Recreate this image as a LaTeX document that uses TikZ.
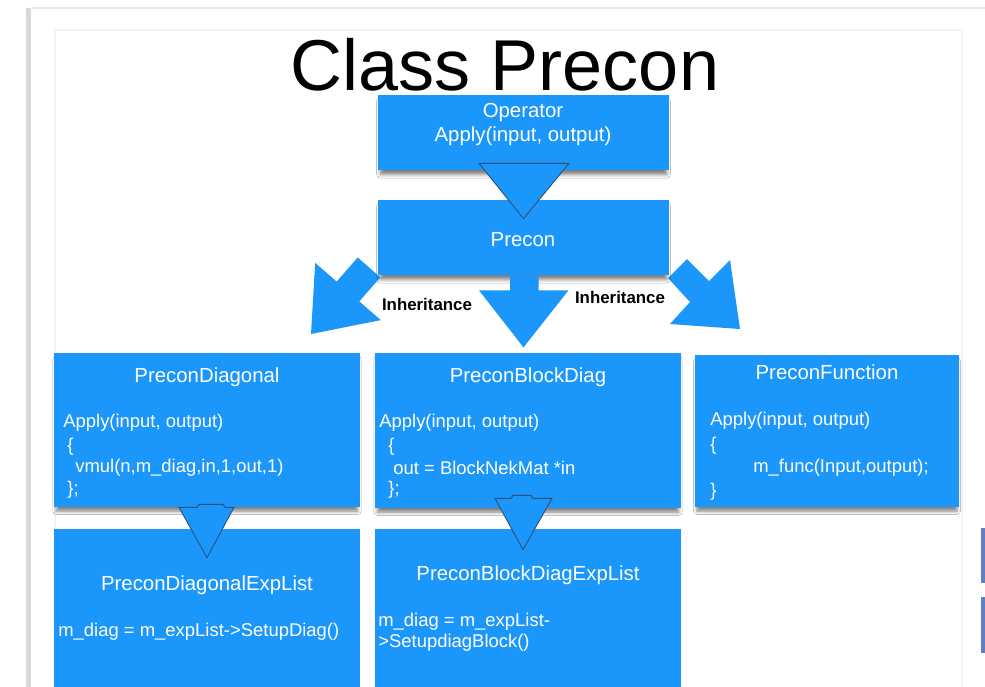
\documentclass[tikz,border=0pt]{standalone}
\usepackage{fontspec}
\setmainfont{Liberation Sans}
\usetikzlibrary{fit,calc,shadows.blur}

\definecolor{slideblue}{RGB}{27,150,250}
\definecolor{tripen}{RGB}{45,80,115}
\definecolor{barblue}{RGB}{95,128,196}

\tikzset{
  classbox/.style={fill=slideblue, draw=none, inner sep=0pt,
    blur shadow={shadow xshift=0pt, shadow yshift=-3pt, shadow scale=0.985,
                 shadow blur radius=2pt, shadow opacity=50}},
  flatbox/.style={fill=slideblue, draw=none, inner sep=0pt},
  headtext/.style={text=white, font=\fontsize{11.6}{13}\selectfont, inner sep=0pt},
  codeline/.style={text=white, font=\fontsize{10.5}{12}\selectfont, inner sep=0pt, anchor=west},
  tri/.style={fill=slideblue, draw=tripen, line width=0.5pt, line join=miter},
  bigarrow/.style={fill=slideblue, draw=none},
  inhlabel/.style={font=\bfseries\fontsize{9.6}{11}\selectfont, inner sep=0pt},
}

\begin{document}
\begin{tikzpicture}[x=0.02cm, y=-0.02cm]
\useasboundingbox (0,0) rectangle (985,687);
\fill[white] (0,0) rectangle (985,687);

% slide frame
\fill[gray!30] (26,8) rectangle (31,687);
\draw[gray!18, line width=1.2pt] (31,8) -- (985,8);
\draw[gray!10, line width=0.6pt] (55,30) rectangle (962,700);
\fill[barblue] (981,528) rectangle (985,583);
\fill[barblue] (981,597) rectangle (985,653);

% title
\node[inner sep=0pt, anchor=base, font=\fontsize{41}{41}\selectfont] (title) at (505,90) {Class Precon};

% inheritance arrows (drawn beneath the Precon box)
\fill[bigarrow] (357.7,257.5) -- (336.7,281.6) -- (315.2,262.9) -- (311,334)
  -- (380.8,320.1) -- (359.3,301.4) -- (380.3,277.3) -- cycle;
\fill[bigarrow] (687,259) -- (709,281) -- (730,260) -- (740,329)
  -- (670,324) -- (690,302) -- (668,278) -- cycle;

% base classes
\node[classbox, fit={(378,95) (669,170)}] (op) {};
\node[classbox, fit={(378,200) (669,275)}] (pre) {};

\fill[bigarrow] ($(pre.south)+(-13.5,0)$) -- ++(0,15) -- ++(-31,0) -- ++(44.5,57)
  -- ++(45,-57) -- ++(-30,0) -- ++(0,-15) -- cycle;

\draw[tri] ($(op.south)+(-44.5,-7)$) -- ($(op.south)+(45.5,-7)$) -- ($(pre.north)+(0,19)$) -- cycle;

% derived classes
\node[classbox, fit={(54,353) (360,507)}] (diag) {};
\node[classbox, fit={(375,353) (681,508)}] (block) {};
\node[classbox, fit={(695,355) (959,507)}] (func) {};
\node[flatbox, fit={(54,529) (360,687)}] (diagx) {};
\node[flatbox, fit={(375,529) (681,687)}] (blockx) {};

\draw[tri] ($(diag.south)+(-28,0)$) -- ($(diag.south)+(-10,0)$) -- ($(diag.south)+(-8,-3)$)
  -- ($(diag.south)+(16,-3)$) -- ($(diag.south)+(18,0)$) -- ($(diag.south)+(27,0)$)
  -- ($(diagx.north)+(0,29)$) -- cycle;
\draw[tri] ($(block.south)+(-33,-10)$) -- ($(block.south)+(-17,-10)$) -- ($(block.south)+(-15,-13)$)
  -- ($(block.south)+(3,-13)$) -- ($(block.south)+(5,-10)$) -- ($(block.south)+(24,-10)$)
  -- ($(blockx.north)+(-5,21)$) -- cycle;

% texts
\node[headtext] (opname) at (523,112) {Operator};
\node[headtext] (opapply) at (523,136) {Apply(input, output)};
\node[headtext] (prename) at (523,240) {Precon};

\node[inhlabel] (inhl) at (427,304) {Inheritance};
\node[inhlabel] (inhr) at (620,297) {Inheritance};

\node[headtext] (diagname) at (207,377) {PreconDiagonal};
\node[codeline] (diag1) at (63,423) {Apply(input, output)};
\node[codeline] (diag2) at (67,447) {\{};
\node[codeline] (diag3) at (75,468) {vmul(n,m\_diag,in,1,out,1)};
\node[codeline] (diag4) at (67,490) {\};};

\node[headtext] (blockname) at (528,377) {PreconBlockDiag};
\node[codeline] (block1) at (379,423) {Apply(input, output)};
\node[codeline] (block2) at (388,447) {\{};
\node[codeline] (block3) at (393,468) {out = BlockNekMat *in};
\node[codeline] (block4) at (388,490) {\};};

\node[headtext] (funcname) at (827,372) {PreconFunction};
\node[codeline] (func1) at (710,421) {Apply(input, output)};
\node[codeline] (func2) at (710,446) {\{};
\node[codeline] (func3) at (753,468) {m\_func(Input,output);};
\node[codeline] (func4) at (710,492) {\}};

\node[headtext] (diagxname) at (207,585) {PreconDiagonalExpList};
\node[codeline] (diagx1) at (58,632) {m\_diag = m\_expList->SetupDiag()};

\node[headtext] (blockxname) at (528,575) {PreconBlockDiagExpList};
\node[codeline] (blockx1) at (378,622) {m\_diag = m\_expList-};
\node[codeline] (blockx2) at (378,643) {>SetupdiagBlock()};
\end{tikzpicture}
\end{document}
